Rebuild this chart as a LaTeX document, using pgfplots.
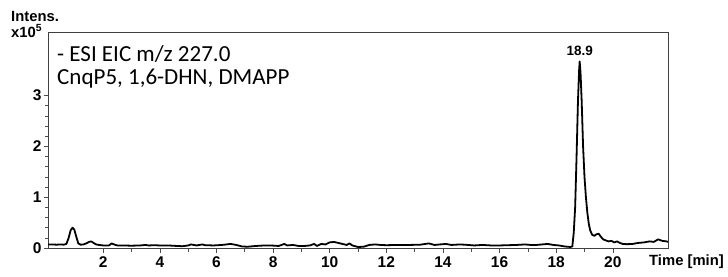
\documentclass[border=0pt]{standalone}
\usepackage{pgfplots}
\pgfplotsset{compat=1.18}
\usepackage{fontspec}
\setmainfont{Liberation Sans}
\newfontfamily\carlito{Carlito}
\begin{document}
\begin{tikzpicture}[x=1bp,y=1bp]
\useasboundingbox (0,0) rectangle (728,276);
\begin{axis}[
  at={(48bp,27.5bp)}, anchor=south west,
  scale only axis, width=620bp, height=216.5bp,
  xmin=0.05, xmax=21.95, ymin=-0.01, ymax=4.25,
  axis line style={black!75, line width=0.9bp},
  xtick={2,4,...,20}, minor x tick num=1,
  ytick={0,1,2,3}, minor y tick num=4,
  tick align=outside, tick pos=left,
  major tick length=4bp, minor tick length=3bp,
  tick style={black!70, line width=0.6bp},
  /pgf/number format/assume math mode=true,
  ticklabel style={font=\fontsize{15.5bp}{17bp}\selectfont\bfseries},
  xticklabel style={yshift=-0.5bp},
  yticklabel style={xshift=1bp},
  clip=true,
]
\addplot[black, line width=1.8bp, line join=round] coordinates {
(0.05,0.07) (0.2,0.07) (0.35,0.065) (0.5,0.07) (0.6,0.065) (0.7,0.08)
(0.78,0.2) (0.85,0.35) (0.92,0.40) (0.98,0.36) (1.05,0.22) (1.12,0.09)
(1.2,0.065) (1.3,0.07) (1.4,0.09) (1.5,0.12) (1.58,0.13) (1.66,0.10)
(1.75,0.07) (1.85,0.06) (2.0,0.05) (2.2,0.05) (2.3,0.09) (2.38,0.07)
(2.5,0.05) (2.7,0.05) (3.0,0.045) (3.3,0.05) (3.5,0.06) (3.6,0.05)
(3.8,0.055) (4.0,0.05) (4.3,0.05) (4.6,0.04) (4.8,0.035) (5.0,0.05)
(5.1,0.07) (5.3,0.05) (5.5,0.07) (5.6,0.055) (5.9,0.05) (6.2,0.06)
(6.5,0.08) (6.7,0.06) (6.9,0.03) (7.1,0.025) (7.4,0.04) (7.7,0.05)
(7.9,0.05) (8.2,0.04) (8.4,0.08) (8.5,0.05) (8.7,0.06) (8.9,0.04)
(9.1,0.04) (9.3,0.05) (9.45,0.08) (9.55,0.04) (9.7,0.08) (9.85,0.07)
(10.0,0.11) (10.15,0.12) (10.3,0.1) (10.45,0.08) (10.6,0.06) (10.7,0.09)
(10.8,0.05) (11.0,0.02) (11.2,0.025) (11.4,0.06) (11.6,0.07) (11.8,0.06)
(12.0,0.055) (12.4,0.06) (12.8,0.06) (13.2,0.065) (13.5,0.09) (13.7,0.06)
(13.9,0.07) (14.1,0.08) (14.3,0.06) (14.6,0.07) (14.9,0.06) (15.1,0.05)
(15.4,0.06) (15.7,0.05) (16.0,0.05) (16.3,0.055) (16.6,0.06) (16.9,0.07)
(17.1,0.06) (17.3,0.06) (17.5,0.07) (17.7,0.08) (17.9,0.06) (18.1,0.05)
(18.3,0.03) (18.5,0.02) (18.57,0.03) (18.62,0.3) (18.67,0.8) (18.72,1.8)
(18.77,2.9) (18.81,3.5) (18.83,3.67) (18.86,3.45) (18.9,2.9) (18.95,2.0)
(19.0,1.4) (19.05,1.0) (19.1,0.7) (19.15,0.48) (19.2,0.35) (19.27,0.26)
(19.35,0.24) (19.42,0.27) (19.5,0.28) (19.58,0.22) (19.66,0.17) (19.75,0.15)
(19.85,0.13) (19.95,0.14) (20.05,0.11) (20.15,0.13) (20.25,0.1) (20.35,0.08)
(20.5,0.075) (20.7,0.08) (20.9,0.1) (21.1,0.11) (21.3,0.13) (21.45,0.12)
(21.6,0.17) (21.75,0.14) (21.9,0.13) (21.95,0.12)
};
\node[anchor=base, font=\fontsize{13.5bp}{16bp}\selectfont\bfseries, inner sep=0pt]
  at (axis cs:18.83,3.67) [yshift=6bp] {18.9};
\end{axis}
\node[anchor=base west, inner sep=0pt, font=\fontsize{14.8bp}{17bp}\selectfont\bfseries] at (11,255) {Intens.};
\node[anchor=base west, inner sep=0pt, font=\fontsize{14.8bp}{17bp}\selectfont\bfseries] at (11,239) {x10\textsuperscript{5}};
\node[anchor=base west, inner sep=0pt, font=\fontsize{14.8bp}{17bp}\selectfont\bfseries] at (649,10.3) {Time [min]};
\node[anchor=base west, inner sep=0pt, font=\fontsize{23bp}{27bp}\carlito] at (57,214.3) {- ESI EIC m/z 227.0};
\node[anchor=base west, inner sep=0pt, font=\fontsize{23bp}{27bp}\carlito] at (57,192) {CnqP5, 1,6-DHN, DMAPP};
\end{tikzpicture}
\end{document}
